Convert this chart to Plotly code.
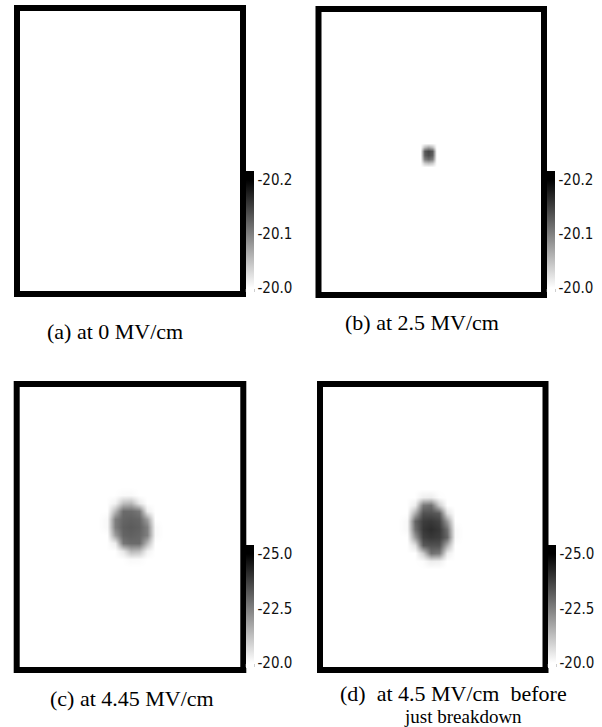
import plotly.graph_objects as go

W, H = 602, 727

# ---------------- data ----------------
captions = ["(a) at 0 MV/cm", "(b) at 2.5 MV/cm", "(c) at 4.45 MV/cm",
            "(d)\u00a0 at 4.5 MV/cm\u00a0 before", "just breakdown"]

ticks_low = [20.0, 20.1, 20.2]
labels_low = ["-20.0", "-20.1", "-20.2"]
ticks_high = [20.0, 22.5, 25.0]
labels_high = ["-20.0", "-22.5", "-25.0"]

# panel (a): uniform field
a_x = [0, 226]
a_y = [0, 286]
a_z = [[20.0, 20.0],
       [20.0, 20.0]]

# panel (b): small spot (rows listed top to bottom)
b_x = [102, 106, 110, 114, 118]
b_y = [152, 148, 144, 140, 136, 132, 128]
b_z = [
    [20.0, 20.0, 20.0, 20.0, 20.0],
    [20.0, 20.05, 20.07, 20.05, 20.0],
    [20.0, 20.13, 20.145, 20.13, 20.0],
    [20.0, 20.125, 20.14, 20.125, 20.0],
    [20.0, 20.1, 20.115, 20.1, 20.0],
    [20.0, 20.04, 20.05, 20.04, 20.0],
    [20.0, 20.0, 20.0, 20.0, 20.0],
]

# panel (c): elliptical spot (rows top to bottom)
c_x = [82, 90, 98, 106, 114, 122, 130, 138, 146]
c_y = [183, 175, 167, 159, 151, 143, 135, 127, 119, 111, 103]
c_z = [
    [20.0, 20.0, 20.0, 20.0, 20.0, 20.0, 20.0, 20.0, 20.0],
    [20.0, 20.0, 20.0, 20.1, 20.12, 20.0, 20.0, 20.0, 20.0],
    [20.0, 20.0, 20.25, 21.25, 21.4, 20.45, 20.0, 20.0, 20.0],
    [20.0, 20.0, 21.4, 22.9, 22.9, 22.65, 20.35, 20.0, 20.0],
    [20.0, 20.12, 22.5, 23.0, 23.1, 23.0, 21.9, 20.0, 20.0],
    [20.0, 20.12, 22.5, 23.1, 23.2, 23.1, 22.5, 20.12, 20.0],
    [20.0, 20.0, 21.9, 23.0, 23.1, 23.0, 22.5, 20.12, 20.0],
    [20.0, 20.0, 20.35, 22.65, 22.9, 22.9, 21.4, 20.0, 20.0],
    [20.0, 20.0, 20.0, 20.45, 21.4, 21.25, 20.25, 20.0, 20.0],
    [20.0, 20.0, 20.0, 20.0, 20.12, 20.1, 20.0, 20.0, 20.0],
    [20.0, 20.0, 20.0, 20.0, 20.0, 20.0, 20.0, 20.0, 20.0],
]

# panel (d): darker elliptical spot (rows top to bottom)
d_x = [79, 87, 95, 103, 111, 119, 127, 135, 143]
d_y = [181, 173, 165, 157, 149, 141, 133, 125, 117, 109, 101]
d_z = [
    [20.0, 20.0, 20.0, 20.0, 20.0, 20.0, 20.0, 20.0, 20.0],
    [20.0, 20.0, 20.0, 20.3, 20.35, 20.05, 20.0, 20.0, 20.0],
    [20.0, 20.0, 20.35, 22.6, 22.8, 21.0, 20.0, 20.0, 20.0],
    [20.0, 20.0, 21.6, 23.4, 23.4, 23.2, 20.6, 20.0, 20.0],
    [20.0, 20.12, 23.0, 23.8, 23.9, 23.7, 22.0, 20.0, 20.0],
    [20.0, 20.12, 22.8, 23.9, 24.1, 23.9, 22.8, 20.12, 20.0],
    [20.0, 20.0, 22.0, 23.7, 23.9, 23.8, 23.0, 20.12, 20.0],
    [20.0, 20.0, 20.6, 23.2, 23.4, 23.4, 21.6, 20.0, 20.0],
    [20.0, 20.0, 20.0, 21.0, 22.8, 22.6, 20.35, 20.0, 20.0],
    [20.0, 20.0, 20.0, 20.05, 20.35, 20.3, 20.0, 20.0, 20.0],
    [20.0, 20.0, 20.0, 20.0, 20.0, 20.0, 20.0, 20.0, 20.0],
]

# ---------------- layout constants (pixels) ----------------
# plot domains (centre line of the thick frame): x0, x1, ytop, ybottom
domains_px = [
    (17, 243, 8, 294),
    (318.5, 544, 9, 295),
    (16.7, 243.3, 384, 670),
    (320, 545.5, 384, 670),
]
# colorbar: left x, top y, bottom y
cbars_px = [
    (246, 171, 293),
    (547, 171, 293),
    (246, 545, 668),
    (548, 545, 668),
]
# caption centres and font sizes
caption_px = [(115, 332), (421.5, 322), (132, 698), (453, 693), (463, 716.5)]
caption_size = [22, 22, 22, 22, 19]

FRAME_W = 6
CB_THICK = 8
TICK_FONT = dict(family="Liberation Sans Narrow, DejaVu Sans Condensed, Liberation Sans, sans-serif",
                 size=15, color="#111111")
CAP_FAMILY = "Liberation Serif, Times New Roman, serif"


def px_x(v):
    return v / W


def px_y(v):
    return 1 - v / H


def scale_for(ticks, bar_top, bar_bot):
    # colour range so that the tick values land where they are on the bar
    tick_top_px = bar_top + 9
    tick_bot_px = bar_bot - 5
    per_px = (ticks[-1] - ticks[0]) / (tick_bot_px - tick_top_px)
    zmin = ticks[0] - (bar_bot - tick_bot_px) * per_px
    zmax = ticks[-1] + (tick_top_px - bar_top) * per_px
    f0 = (ticks[0] - zmin) / (zmax - zmin)
    f1 = (ticks[-1] - zmin) / (zmax - zmin)
    cs = [[0, "#ffffff"], [f0, "#ffffff"], [f1, "#000000"], [1, "#000000"]]
    return zmin, zmax, cs


fig = go.Figure()

panels = [
    (a_x, a_y, a_z, ticks_low, labels_low, False),
    (b_x, b_y, b_z, ticks_low, labels_low, True),
    (c_x, c_y, c_z, ticks_high, labels_high, True),
    (d_x, d_y, d_z, ticks_high, labels_high, True),
]

shapes = []
for i, (xs, ys, zs, tv, tt, rev) in enumerate(panels):
    n = i + 1
    xa = "x" if n == 1 else f"x{n}"
    ya = "y" if n == 1 else f"y{n}"
    cx, ctop, cbot = cbars_px[i]
    zmin, zmax, cs = scale_for(tv, ctop, cbot)
    yy = list(reversed(ys)) if rev else ys
    zz = list(reversed(zs)) if rev else zs
    fig.add_trace(go.Heatmap(
        x=xs, y=yy, z=zz, xaxis=xa, yaxis=ya,
        zmin=zmin, zmax=zmax, colorscale=cs, zsmooth="best",
        hoverinfo="skip",
        colorbar=dict(
            tickvals=tv, ticktext=tt, ticks="",
            thickness=CB_THICK, thicknessmode="pixels",
            len=cbot - ctop, lenmode="pixels",
            x=px_x(cx), xanchor="left", xpad=0,
            y=px_y((ctop + cbot) / 2), yanchor="middle", ypad=0,
            outlinewidth=0, tickfont=TICK_FONT,
        ),
    ))
    x0, x1, yt, yb = domains_px[i]
    fig.update_layout(**{
        ("xaxis" if n == 1 else f"xaxis{n}"): dict(
            domain=[px_x(x0), px_x(x1)], range=[0, 226], visible=False,
            anchor=ya, fixedrange=True),
        ("yaxis" if n == 1 else f"yaxis{n}"): dict(
            domain=[px_y(yb), px_y(yt)], range=[0, 286], visible=False,
            anchor=xa, fixedrange=True),
    })
    # thick black frame
    shapes.append(dict(type="rect", xref="paper", yref="paper",
                       x0=px_x(x0), x1=px_x(x1), y0=px_y(yb), y1=px_y(yt),
                       line=dict(color="#000000", width=FRAME_W),
                       fillcolor="rgba(0,0,0,0)", layer="above"))
    # small outlined white box at the bottom of the colour bar
    shapes.append(dict(type="rect", xref="paper", yref="paper",
                       x0=px_x(cx), x1=px_x(cx + CB_THICK),
                       y0=px_y(cbot - 1), y1=px_y(cbot - 4),
                       line=dict(color="#888888", width=0.8),
                       fillcolor="#ffffff", layer="above"))

annotations = []
for text, (cx, cy), fs in zip(captions, caption_px, caption_size):
    annotations.append(dict(text=text, x=px_x(cx), y=px_y(cy), xref="paper", yref="paper",
                            xanchor="center", yanchor="middle", showarrow=False,
                            font=dict(family=CAP_FAMILY, size=fs, color="#000000")))

fig.update_layout(
    width=W, height=H, margin=dict(l=0, r=0, t=0, b=0),
    paper_bgcolor="#ffffff", plot_bgcolor="#ffffff",
    shapes=shapes, annotations=annotations, showlegend=False,
)

fig.write_html("out.html",
               config={"displayModeBar": False},
               post_script="document.body.style.margin='0';document.body.style.overflow='hidden';")
